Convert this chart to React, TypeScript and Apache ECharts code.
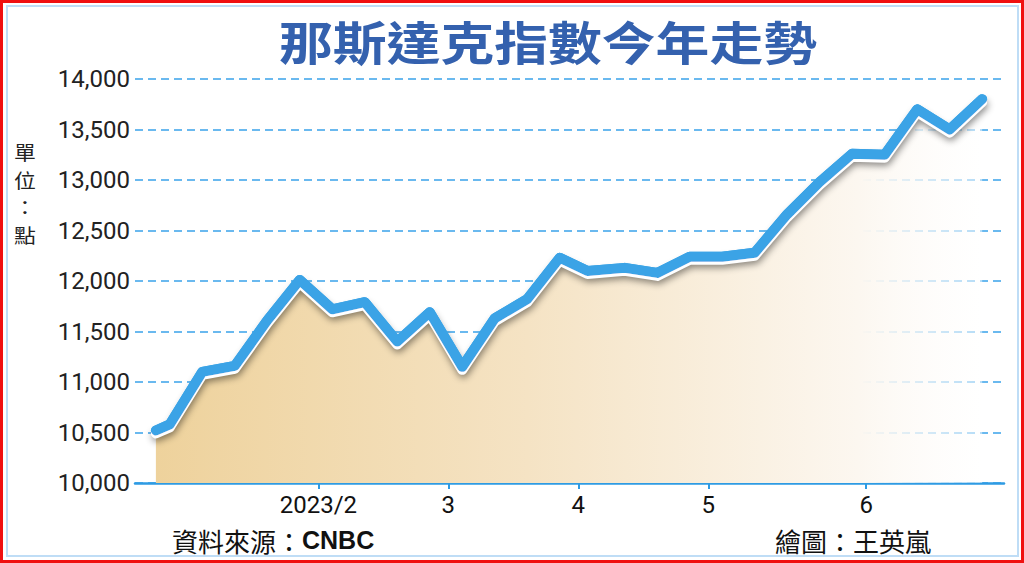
import React, { useEffect, useRef } from 'react';
import * as echarts from 'echarts';

const dates = ['2023-01-03','2023-01-06','2023-01-13','2023-01-20','2023-01-27','2023-02-03','2023-02-10','2023-02-17','2023-02-24','2023-03-03','2023-03-10','2023-03-17','2023-03-24','2023-03-31','2023-04-06','2023-04-14','2023-04-21','2023-04-28','2023-05-05','2023-05-12','2023-05-19','2023-05-26','2023-06-02','2023-06-09','2023-06-16','2023-06-23','2023-06-30'];
const values = [10520, 10580, 11100, 11160, 11610, 12010, 11720, 11790, 11400, 11690, 11150, 11630, 11820, 12230, 12100, 12130, 12080, 12240, 12240, 12280, 12660, 12980, 13260, 13250, 13700, 13500, 13800];
const tickDates = ['2023-02-07','2023-03-07','2023-04-04','2023-05-02','2023-06-05'];
const tickLabels = ['2023/2','3','4','5','6'];
const yTicks = [10000, 10500, 11000, 11500, 12000, 12500, 13000, 13500, 14000];
const unitChars = ['單', '位', '：', '點'];

const DAY = 86400000;
const ts = (d: string) => new Date(d + 'T00:00:00Z').getTime();

export default function App() {
  const ref = useRef<HTMLDivElement>(null);
  useEffect(() => {
    if (!ref.current) return;
    const chart = echarts.init(ref.current, null, { renderer: 'svg' });
    const data = dates.map((d, i) => [ts(d), values[i]]);
    const tickTs = tickDates.map(ts);
    const labelOf = (v: number) => {
      let best = -1, bd = Infinity;
      tickTs.forEach((t, i) => { const dd = Math.abs(t - v); if (dd < bd) { bd = dd; best = i; } });
      return bd < DAY ? tickLabels[best] : '';
    };
    const cjk = "'Noto Sans CJK TC', sans-serif";
    chart.setOption({
      animation: false,
      backgroundColor: '#ffffff',
      grid: { left: 135, right: 20, top: 79, bottom: 80 },
      xAxis: {
        type: 'value',
        min: ts('2022-12-29') + DAY / 2,
        max: ts('2023-07-04') + DAY * 0.7,
        axisLine: { show: true, lineStyle: { color: '#2E9BE3', width: 2.5 } },
        axisTick: { show: true, customValues: tickTs, length: 6, lineStyle: { color: '#2E9BE3', width: 2 } },
        axisLabel: {
          customValues: tickTs,
          formatter: (v: number) => labelOf(v),
          color: '#111',
          fontSize: 24,
          fontFamily: 'Roboto, sans-serif',
          margin: 10,
        },
        splitLine: { show: false },
      },
      yAxis: {
        type: 'value',
        min: yTicks[0],
        max: yTicks[yTicks.length - 1],
        interval: 500,
        axisLine: { show: false },
        axisTick: { show: false },
        axisLabel: {
          formatter: (v: number) => v.toLocaleString('en-US'),
          color: '#222',
          fontSize: 24,
          fontFamily: 'Roboto, sans-serif',
          margin: 5,
        },
        splitLine: { show: true, lineStyle: { color: '#3AA3EA', width: 1.5, type: [8, 5] } },
      },
      series: [
        {
          type: 'line',
          data,
          symbol: 'none',
          lineStyle: { width: 0, opacity: 0 },
          areaStyle: {
            opacity: 1,
            color: new echarts.graphic.LinearGradient(0, 0, 1, 0, [
              { offset: 0, color: '#EED29C' },
              { offset: 0.45, color: '#F5E3C4' },
              { offset: 0.85, color: '#FCF7F0' },
              { offset: 1, color: 'rgba(255,255,255,0.5)' },
            ]),
          },
          z: 1,
        },
        {
          type: 'line',
          data,
          symbol: 'none',
          lineStyle: {
            width: 10, color: '#3AA3E6', cap: 'round', join: 'round',
            shadowColor: 'rgba(0,0,0,0.45)', shadowBlur: 7, shadowOffsetX: 1, shadowOffsetY: 6,
          },
          z: 2,
        },
        {
          type: 'line',
          data,
          symbol: 'none',
          lineStyle: {
            width: 10, color: '#3AA3E6', cap: 'round', join: 'round',
            shadowColor: '#ffffff', shadowBlur: 0, shadowOffsetX: 0, shadowOffsetY: 3,
          },
          z: 3,
        },
      ],
      graphic: [
        { type: 'rect', shape: { x: 1.5, y: 1.5, width: 1021, height: 560 }, style: { fill: 'none', stroke: '#F01010', lineWidth: 3 }, silent: true, z: 100 },
        { type: 'rect', shape: { x: 7, y: 6, width: 1011, height: 550 }, style: { fill: 'none', stroke: '#BFDDF6', lineWidth: 2 }, silent: true, z: 100 },
        {
          type: 'text', x: 548, y: 40, scaleX: 1.17, scaleY: 1,
          style: { text: '那斯達克指數今年走勢', fill: '#3461AE', fontSize: 46, fontWeight: 'bold', align: 'center', verticalAlign: 'middle', fontFamily: cjk },
          z: 100,
        },
        ...unitChars.map((c, i) => ({
          type: 'text', x: 25, y: 152 + i * 27.5,
          style: { text: c, fill: '#222', fontSize: 19, align: 'center', verticalAlign: 'middle', fontFamily: cjk },
          scaleX: 1.15,
          z: 100,
        })),
        {
          type: 'text', x: 172, y: 540,
          style: {
            text: '{a|資料來源：}{b|CNBC}',
            verticalAlign: 'middle',
            rich: {
              a: { fontSize: 26, fill: '#111', fontFamily: cjk },
              b: { fontSize: 25, fill: '#111', fontWeight: 'bold', fontFamily: "'Liberation Sans', Arial, sans-serif" },
            },
          },
          z: 100,
        },
        {
          type: 'text', x: 775, y: 540,
          style: { text: '繪圖：王英嵐', verticalAlign: 'middle', fontSize: 26, fill: '#111', fontFamily: cjk },
          z: 100,
        },
      ],
    });
    return () => chart.dispose();
  }, []);
  return <div ref={ref} style={{ position: 'absolute', left: 0, top: 0, width: 1024, height: 563 }} />;
}
